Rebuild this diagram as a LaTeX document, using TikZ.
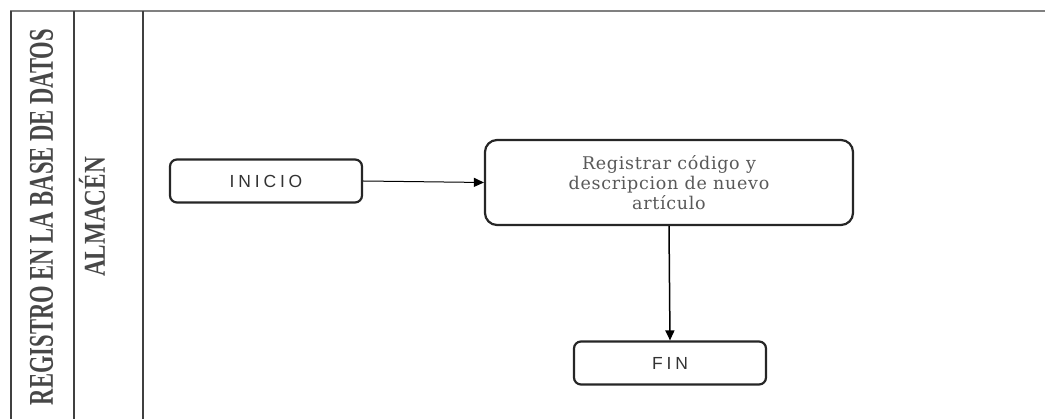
\documentclass[tikz,border=0pt]{standalone}
\usepackage{fontspec}
\setmainfont{Liberation Serif}
\newfontfamily\boxsans[LetterSpace=22]{Liberation Sans}
\newfontfamily\boxserif[LetterSpace=4]{DejaVu Serif}
\usetikzlibrary{arrows.meta}
\tikzset{
  lane/.style={draw=black!75, line width=1.6pt},
  topline/.style={draw=black!50, line width=1.8pt},
  terminal/.style={draw=black!85, line width=2.2pt, rounded corners=7pt, fill=white,
    minimum width=192pt, minimum height=43pt, inner sep=0pt,
    font=\boxsans\fontsize{17.5}{19}\selectfont, text=black!80},
  process/.style={draw=black!85, line width=2.2pt, rounded corners=12pt, fill=white,
    minimum width=368pt, minimum height=85pt, inner sep=0pt, align=center,
    font=\boxserif\fontsize{17.5}{20}\selectfont, text=black!65},
  flow/.style={draw=black, line width=1pt, -{Triangle[length=10pt,width=9pt]}},
  lanelabel/.style={rotate=90, inner sep=0pt, text=black!72, font=\bfseries}
}
\begin{document}
\begin{tikzpicture}[x=1pt,y=-1pt]
  \useasboundingbox (0,0) rectangle (1045,419);
  % swimlane frame
  \draw[topline] (10,11) -- (1045,11);
  \draw[lane] (11,11) -- (11,419);
  \draw[lane] (74,11) -- (74,419);
  \draw[lane] (143,11) -- (143,419);
  % lane titles
  \node[lanelabel] (pool) at (41.5,217) {\resizebox{376pt}{23pt}{REGISTRO EN LA BASE DE DATOS}};
  \node[lanelabel] (almacen) at (92,217) {\resizebox{120pt}{26pt}{ALMAC\'EN}};
  % flow
  \node[terminal] (inicio) at (266,181) {INICIO};
  \node[process] (reg) at (669,182.5) {Registrar código y\\descripcion de nuevo\\artículo};
  \node[terminal] (fin) at (670,363) {FIN};
  \draw[flow] (inicio.east) -- (reg.west);
  \draw[flow, line width=1.5pt] (reg.south) -- (fin.north);
\end{tikzpicture}
\end{document}
